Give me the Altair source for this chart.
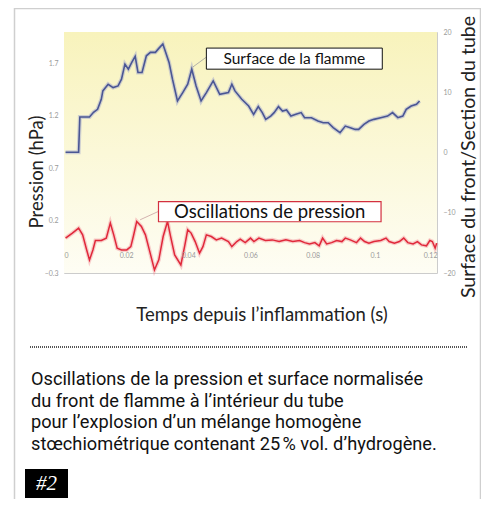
import altair as alt
import pandas as pd

# ---- data ----
t_surface = [0.0005, 0.0047, 0.0051, 0.0082, 0.0095, 0.0108, 0.0120, 0.0125, 0.0142, 0.0158,
             0.0174, 0.0185, 0.0196, 0.0207, 0.0218, 0.0229, 0.0238, 0.0251, 0.0265, 0.0278,
             0.0294, 0.0305, 0.0318, 0.0327, 0.0338, 0.0349, 0.0365, 0.0382, 0.0398, 0.0411,
             0.0425, 0.0441, 0.0458, 0.0480, 0.0501, 0.0529, 0.0540, 0.0550, 0.0572, 0.0594,
             0.0610, 0.0625, 0.0638, 0.0649, 0.0665, 0.0676, 0.0690, 0.0703, 0.0716, 0.0730,
             0.0746, 0.0763, 0.0774, 0.0796, 0.0817, 0.0834, 0.0850, 0.0866, 0.0888, 0.0905,
             0.0921, 0.0937, 0.0948, 0.0965, 0.0981, 0.0997, 0.1019, 0.1041, 0.1057, 0.1074,
             0.1090, 0.1101, 0.1117, 0.1134, 0.1144]
surface = [0.05, 0.05, 5.88, 5.88, 6.67, 7.17, 8.83, 10.22, 11.33, 10.78,
           11.05, 12.17, 14.67, 13.83, 14.95, 15.95, 13.28, 13.28, 16.05, 16.62,
           16.62, 17.28, 18.0, 16.62, 14.95, 12.17, 8.55, 9.95, 11.33, 13.83,
           11.05, 8.55, 9.95, 11.88, 9.67, 9.95, 11.33, 10.22, 8.83, 7.72,
           6.33, 7.62, 6.62, 5.5, 6.05, 6.62, 7.62, 6.88, 7.05, 6.05,
           6.33, 6.62, 5.78, 5.78, 5.22, 4.95, 4.95, 4.12, 3.28, 4.38,
           4.12, 3.83, 3.83, 4.67, 5.22, 5.5, 5.78, 6.05, 6.62, 5.78,
           6.05, 7.17, 7.72, 8.0, 8.55]

t_pressure = [0.0005, 0.0027, 0.0047, 0.0060, 0.0073, 0.0082, 0.0093, 0.0101, 0.0120, 0.0136,
              0.0149, 0.0160, 0.0171, 0.0185, 0.0202, 0.0215, 0.0223, 0.0234, 0.0249, 0.0262,
              0.0276, 0.0291, 0.0305, 0.0319, 0.0333, 0.0343, 0.0356, 0.0376, 0.0389, 0.0398,
              0.0409, 0.0422, 0.0436, 0.0447, 0.0458, 0.0474, 0.0490, 0.0507, 0.0529,
              0.0540, 0.0556, 0.0567, 0.0583, 0.0600, 0.0611, 0.0627, 0.0648, 0.0670, 0.0692,
              0.0714, 0.0736, 0.0758, 0.0774, 0.0790, 0.0807, 0.0821, 0.0832, 0.0845, 0.0861,
              0.0877, 0.0894, 0.0905, 0.0921, 0.0941, 0.0954, 0.0967, 0.0981, 0.0997, 0.1019,
              0.1036, 0.1046, 0.1063, 0.1079, 0.1093, 0.1106, 0.1123, 0.1137, 0.1150, 0.1166,
              0.1177, 0.1185, 0.1194, 0.1199]
pressure = [0.033, 0.081, 0.128, 0.064, -0.080, -0.175, -0.080, 0.010, 0.010, 0.033,
            0.176, 0.064, -0.063, -0.080, -0.080, -0.048, 0.048, 0.192, 0.144, 0.064,
            -0.096, -0.271, -0.175, 0.048, 0.192, 0.048, -0.128, -0.223, -0.032, 0.112,
            0.081, 0.0, -0.111, -0.048, 0.064, 0.048, 0.016, 0.033, 0.0,
            -0.048, 0.0, 0.023, -0.010, 0.033, 0.0, 0.033, 0.010, 0.016, 0.0,
            0.016, 0.0, 0.010, -0.010, -0.022, -0.010, -0.041, 0.033, -0.022, -0.010,
            0.010, 0.0, 0.033, 0.016, -0.010, 0.033, 0.0, -0.015, 0.0, 0.010,
            0.033, 0.0, -0.015, 0.0, 0.033, -0.010, -0.022, 0.0, -0.032, -0.041,
            0.010, 0.0, -0.063, -0.015]

x_ticks = [0, 0.02, 0.04, 0.06, 0.08, 0.1, 0.12]
left_ticks = [-0.3, 0.2, 0.7, 1.2, 1.7]
right_ticks = [-20, -15, -10, -5, 0, 5, 10, 15, 20]

surface_label = "Surface de la flamme"
pressure_label = "Oscillations de pression"
x_title = "Temps depuis l\u2019inflammation (s)"
left_title = "Pression (hPa)"
right_title = "Surface du front/Section du tube"
caption = ["Oscillations de la pression et surface normalis\u00e9e",
           "du front de flamme \u00e0 l\u2019int\u00e9rieur du tube",
           "pour l\u2019explosion d\u2019un m\u00e9lange homog\u00e8ne",
           "st\u0153chiom\u00e9trique contenant 25\u202f% vol. d\u2019hydrog\u00e8ne."]
badge = "#2"

# annotation boxes (data units)
surf_box = dict(t1=0.0458, t2=0.1024, s1=17.33, s2=13.83, tc=0.0741, sc=15.58,
                lt1=0.0458, lt2=0.0414, ls1=15.83, ls2=14.17)
pres_box = dict(t1=0.0304, t2=0.1020, p1=0.381, p2=0.189, tc=0.0662, pc=0.285,
                lt1=0.0304, lt2=0.0245, lp1=0.288, lp2=0.208)

W, H = 373, 241
FONT = "Lato"

df_s = pd.DataFrame({"t": t_surface, "s": surface})
df_p = pd.DataFrame({"t": t_pressure, "p": pressure})

X = alt.X("t:Q", scale=alt.Scale(domain=[0, 0.12], nice=False, zero=False),
          axis=alt.Axis(values=x_ticks, format="~g", orient="bottom", offset=-25,
                        domain=False, ticks=False, grid=False, labelFontSize=7,
                        labelColor="#9a9a9a", labelPadding=3, title=None, labelFont=FONT,
                        zindex=1))
YP = alt.Y("p:Q", scale=alt.Scale(domain=[-0.3, 2.0], nice=False, zero=False),
           axis=alt.Axis(values=left_ticks, format="~g", orient="left", domain=False,
                         ticks=False, grid=False, labelFontSize=7, labelColor="#9a9a9a",
                         labelPadding=6, title=left_title, titleAngle=270, titleX=-28,
                         titleY=H / 2 + 19, titleBaseline="middle", titleFontSize=18.5,
                         titleFontWeight="normal", titleFont=FONT, titleColor="#222222",
                         labelFont=FONT))
YS = alt.Y("s:Q", scale=alt.Scale(domain=[-20, 20], nice=False, zero=False),
           axis=alt.Axis(values=right_ticks, format="~g", orient="right", domain=False,
                         ticks=False, grid=False, labelFontSize=7, labelColor="#9a9a9a",
                         labelPadding=6, title=right_title, titleAngle=270, titleX=31,
                         titleY=H / 2 + 4, titleBaseline="middle", titleFontSize=19.5,
                         titleFontWeight="normal", titleFont=FONT, titleColor="#222222",
                         labelFont=FONT))

bg = alt.Chart(pd.DataFrame({"a": [0]})).mark_rect(
    color=alt.Gradient(gradient="linear", x1=0, x2=0, y1=0, y2=1,
                       stops=[alt.GradientStop(offset=0, color="#f8f3bc"),
                              alt.GradientStop(offset=1, color="#fefdf4")])
).encode(x=alt.value(0), x2=alt.value(W), y=alt.value(0), y2=alt.value(H))

# pressure group (left axis)
p_base = alt.Chart(df_p)
p_halo = p_base.mark_line(color="#f08890", strokeWidth=4, opacity=0.4).encode(x=X, y=YP)
p_line = p_base.mark_line(color="#e0283a", strokeWidth=1.5).encode(x=X, y=YP)
pb = pd.DataFrame([pres_box])
p_lead = alt.Chart(pb).mark_rule(color="#c8a0a0", strokeWidth=0.8).encode(
    x=alt.X("lt1:Q"), x2="lt2:Q", y=alt.Y("lp1:Q"), y2="lp2:Q")
p_rect = alt.Chart(pb).mark_rect(fill="white", stroke="#d3303f", strokeWidth=1.2).encode(
    x=alt.X("t1:Q"), x2="t2:Q", y=alt.Y("p1:Q"), y2="p2:Q")
p_text = alt.Chart(pb).mark_text(text=pressure_label, font=FONT, fontSize=18.5,
                                 color="#111111", baseline="middle").encode(
    x=alt.X("tc:Q"), y=alt.Y("pc:Q"))
left_group = alt.layer(p_halo, p_line, p_lead, p_rect, p_text)

# surface group (right axis)
s_base = alt.Chart(df_s)
s_halo = s_base.mark_line(color="#9aa0cc", strokeWidth=4, opacity=0.45).encode(x=X, y=YS)
s_line = s_base.mark_line(color="#4a5694", strokeWidth=1.6).encode(x=X, y=YS)
sb = pd.DataFrame([surf_box])
s_lead = alt.Chart(sb).mark_rule(color="#a0a0a0", strokeWidth=0.8).encode(
    x=alt.X("lt1:Q"), x2="lt2:Q", y=alt.Y("ls1:Q"), y2="ls2:Q")
s_rect = alt.Chart(sb).mark_rect(fill="white", stroke="#111111", strokeWidth=1).encode(
    x=alt.X("t1:Q"), x2="t2:Q", y=alt.Y("s1:Q"), y2="s2:Q")
s_text = alt.Chart(sb).mark_text(text=surface_label, font=FONT, fontSize=15.5,
                                 color="#111111", baseline="middle").encode(
    x=alt.X("tc:Q"), y=alt.Y("sc:Q"))
right_group = alt.layer(s_halo, s_line, s_lead, s_rect, s_text)

one = pd.DataFrame({"a": [0]})
card = alt.Chart(one).mark_rect(fill=None, fillOpacity=0, stroke="#cfcfcf", strokeWidth=1.5).encode(
    x=alt.value(-49.5), x2=alt.value(416.5), y=alt.value(-23.5), y2=alt.value(490))
xtitle = alt.Chart(one).mark_text(text=x_title, font=FONT, fontSize=18.5, color="#222222",
                                  baseline="middle", align="center").encode(
    x=alt.value(198), y=alt.value(283))
sep = alt.Chart(one).mark_rule(color="#555555", strokeWidth=2, strokeDash=[1, 1]).encode(
    x=alt.value(-34), x2=alt.value(403), y=alt.value(315))
cap_layers = []
for i, line in enumerate(caption):
    cap_layers.append(alt.Chart(one).mark_text(text=line, font="Roboto", fontSize=18.2,
                                               color="#111111", align="left",
                                               baseline="middle").encode(
        x=alt.value(-33), y=alt.value(348 + i * 21.5)))
badge_rect = alt.Chart(one).mark_rect(color="black").encode(
    x=alt.value(-39), x2=alt.value(4), y=alt.value(437), y2=alt.value(466))
badge_text = alt.Chart(one).mark_text(text=badge, font="Liberation Serif", fontStyle="italic",
                                      fontSize=21, color="white", align="center",
                                      baseline="middle").encode(
    x=alt.value(-17.5), y=alt.value(452))

chart = alt.layer(
    card, bg, left_group, right_group, xtitle, sep, *cap_layers, badge_rect, badge_text
).resolve_scale(y="independent").properties(
    width=W, height=H,
    autosize=alt.AutoSizeParams(type="none"),
    padding={"left": 56, "top": 24, "right": 44, "bottom": 226},
    background="white",
).configure_view(stroke="#cccccc", strokeWidth=1)

chart.save("out.html", embed_options={"renderer": "svg", "actions": False})
